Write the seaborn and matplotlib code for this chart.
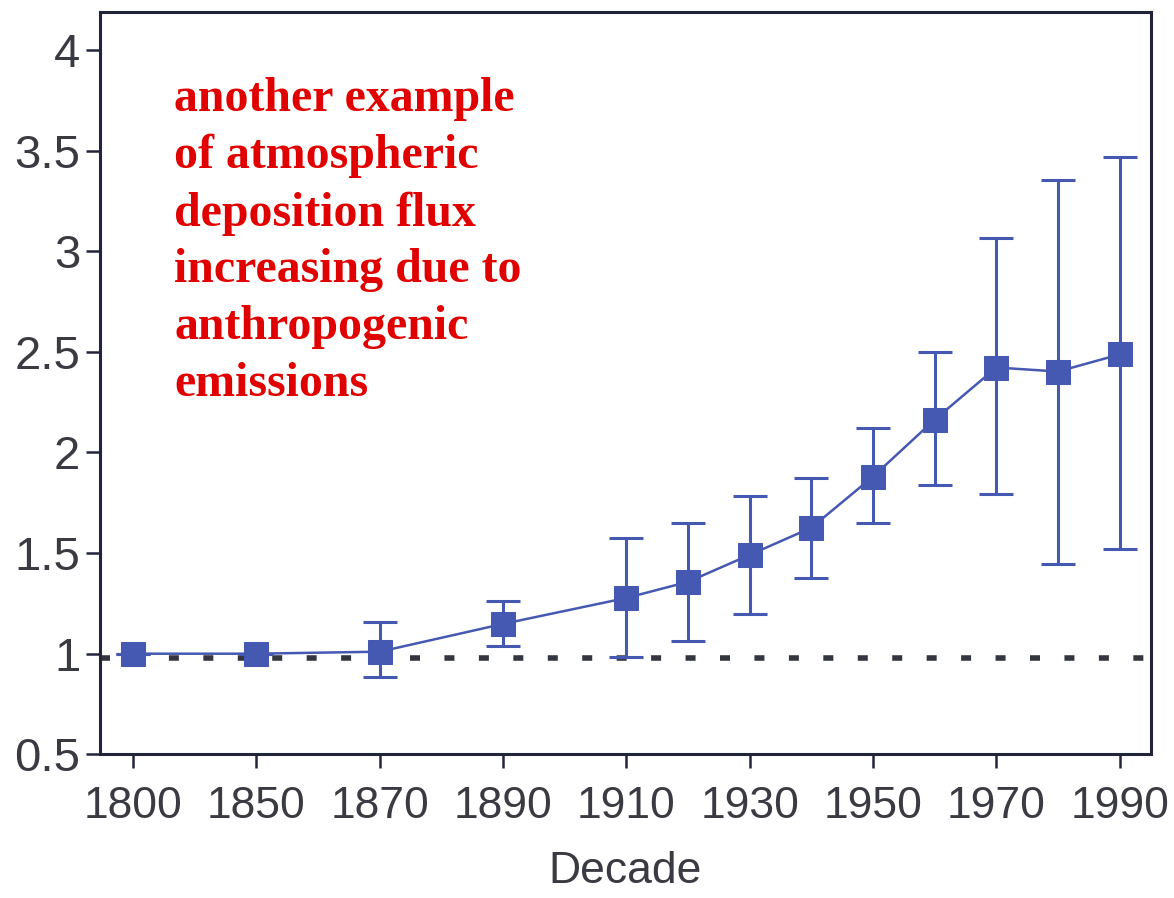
import matplotlib
matplotlib.use("Agg")
import matplotlib.pyplot as plt
import seaborn as sns
import pandas as pd

# Deposition flux (relative to pre-industrial) by decade
decades = [1800, 1850, 1870, 1890, 1910, 1920, 1930, 1940, 1950, 1960, 1970, 1980, 1990]
flux = [1.00, 1.00, 1.01, 1.148, 1.277, 1.357, 1.491, 1.626, 1.880, 2.163, 2.422, 2.402, 2.487]
upper = [1.00, 1.00, 1.158, 1.262, 1.576, 1.651, 1.785, 1.875, 2.123, 2.497, 3.064, 3.353, 3.467]
lower = [1.00, 1.00, 0.884, 1.038, 0.984, 1.063, 1.198, 1.377, 1.651, 1.840, 1.795, 1.447, 1.521]
baseline = 0.98

tick_decades = [1800, 1850, 1870, 1890, 1910, 1930, 1950, 1970, 1990]
y_ticks = [0.5, 1, 1.5, 2, 2.5, 3, 3.5, 4]
y_tick_labels = ["0.5", "1", "1.5", "2", "2.5", "3", "3.5", "4"]

note_lines = ["another example", "of atmospheric", "deposition flux",
              "increasing due to", "anthropogenic", "emissions"]


def decade_pos(d):
    # 1800 sits one slot before 1850; after that each slot is 20 years
    return 0.0 if d == 1800 else (d - 1850) / 20 + 1


df = pd.DataFrame({"decade": decades, "flux": flux,
                   "upper": upper, "lower": lower})
df["pos"] = df["decade"].map(decade_pos)

sns.set_theme(style="ticks")
plt.rcParams["font.family"] = ["Liberation Sans", "DejaVu Sans"]

blue = "#4659b2"
frame = "#22243a"
label_col = "#3a3a42"

fig = plt.figure(figsize=(11.74, 8.98), dpi=100)
ax = fig.add_axes([0.085, 0.16, 0.895, 0.827])

ax.axhline(baseline, color="#34363f", lw=4, ls=(0, (1.8, 4.4)), zorder=1)

ax.errorbar(df["pos"], df["flux"],
            yerr=[df["flux"] - df["lower"], df["upper"] - df["flux"]],
            fmt="none", ecolor=blue, elinewidth=2.2, capsize=12, capthick=2.2,
            zorder=2)
sns.lineplot(data=df, x="pos", y="flux", ax=ax, color=blue, lw=1.8,
             marker="s", markersize=17, markeredgecolor=blue,
             markerfacecolor=blue, zorder=3)

ax.set_xlim(-0.27, 8.25)
ax.set_ylim(0.5, 4.19)
ax.set_xticks([decade_pos(d) for d in tick_decades])
ax.set_xticklabels([str(d) for d in tick_decades])
ax.set_yticks(y_ticks)
ax.set_yticklabels(y_tick_labels)

ax.tick_params(axis="x", labelsize=32, colors=frame, labelcolor=label_col,
               length=10, width=1.8, pad=13)
ax.tick_params(axis="y", labelsize=34, colors=frame, labelcolor=label_col,
               length=10, width=1.8, pad=4)
for s in ax.spines.values():
    s.set_visible(True)
    s.set_color(frame)
    s.set_linewidth(2.2)

ax.set_xlabel("Decade", fontsize=32, color=label_col, labelpad=17)
ax.set_ylabel("")

ax.text(0.071, 0.912, "\n".join(note_lines), transform=ax.transAxes,
        ha="left", va="top", fontsize=34.5, fontweight="bold",
        family="Liberation Serif", color="#e00000", linespacing=1.375)

fig.savefig("out.png", dpi=100)
